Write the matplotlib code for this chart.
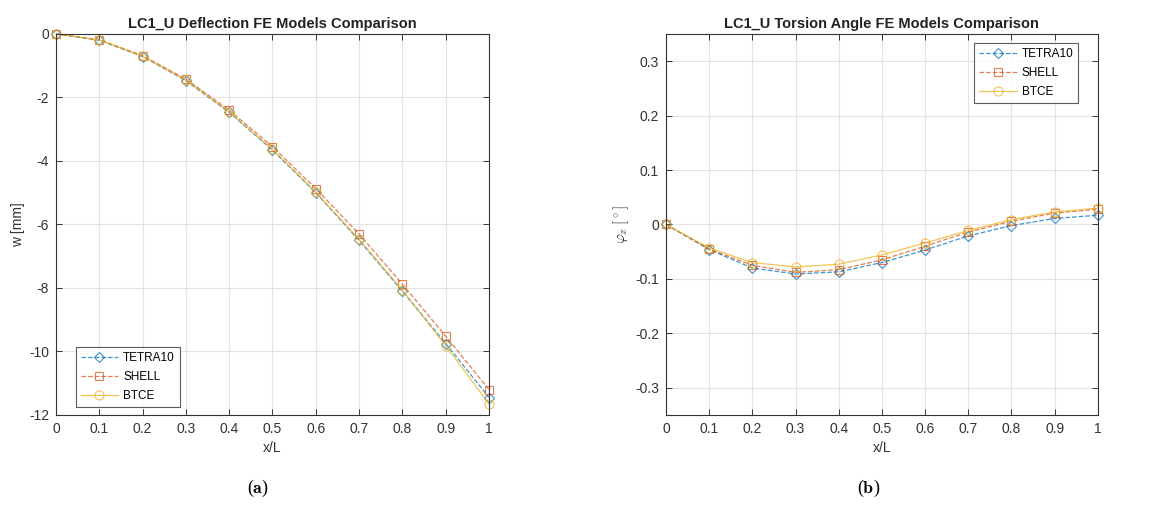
import matplotlib
matplotlib.use("Agg")
import matplotlib.pyplot as plt
import numpy as np

plt.rcParams['font.family'] = ['Liberation Sans', 'DejaVu Sans']
plt.rcParams['mathtext.fontset'] = 'cm'

x = [0, 0.1, 0.2, 0.3, 0.4, 0.5, 0.6, 0.7, 0.8, 0.9, 1.0]
series_names = ['TETRA10', 'SHELL', 'BTCE']

w_tetra = [0, -0.20, -0.71, -1.47, -2.47, -3.66, -5.00, -6.50, -8.10, -9.75, -11.45]
w_shell = [0, -0.18, -0.68, -1.42, -2.40, -3.55, -4.87, -6.30, -7.88, -9.52, -11.20]
w_btce = [0, -0.19, -0.70, -1.45, -2.45, -3.63, -4.98, -6.47, -8.07, -9.82, -11.65]

phi_tetra = [0, -0.046, -0.080, -0.091, -0.087, -0.070, -0.047, -0.021, -0.002, 0.011, 0.017]
phi_shell = [0, -0.045, -0.075, -0.088, -0.083, -0.065, -0.040, -0.014, 0.006, 0.021, 0.028]
phi_btce = [0, -0.043, -0.070, -0.078, -0.073, -0.056, -0.034, -0.011, 0.009, 0.023, 0.030]

colors = ['#0072BD', '#D95319', '#EDB120']
markers = ['D', 's', 'o']
msizes = [5, 5.5, 6.5]
styles = ['--', '--', '-']

fig = plt.figure(figsize=(11.61, 5.07), dpi=100)
axL = fig.add_axes([0.0482, 0.1815, 0.373, 0.7515])
axR = fig.add_axes([0.5736, 0.1815, 0.372, 0.7515])

def style_ax(ax):
    ax.set_facecolor('white')
    ax.grid(True, color='#e3e3e3', linewidth=0.8)
    ax.set_axisbelow(True)
    ax.tick_params(direction='in', top=True, right=True, labelsize=10,
                   length=4, width=0.7, colors='#333333', pad=5)
    for s in ax.spines.values():
        s.set_color('#333333')
        s.set_linewidth(0.8)
    ax.set_xlim(0, 1)
    ax.set_xticks(x)
    ax.set_xticklabels(['0', '0.1', '0.2', '0.3', '0.4', '0.5', '0.6', '0.7', '0.8', '0.9', '1'])
    ax.set_xlabel('x/L', fontsize=10, color='#333333', labelpad=4)

for ax, data in [(axL, [w_tetra, w_shell, w_btce]), (axR, [phi_tetra, phi_shell, phi_btce])]:
    for d, c, m, ms, ls, name in zip(data, colors, markers, msizes, styles, series_names):
        ax.plot(x, d, linestyle=ls, color=c, marker=m, markersize=ms,
                markerfacecolor='none', markeredgewidth=0.8, linewidth=0.9,
                alpha=0.75, label=name, clip_on=False)
    style_ax(ax)

legkw = dict(fontsize=8.5, frameon=True, fancybox=False, edgecolor='#333333',
             handlelength=3.2, borderpad=0.4, labelspacing=0.6, handletextpad=0.4,
             borderaxespad=0)

axL.set_ylim(-12, 0)
axL.set_yticks([-12, -10, -8, -6, -4, -2, 0])
axL.set_yticklabels(['-12', '-10', '-8', '-6', '-4', '-2', '0'])
axL.set_ylabel('w [mm]', fontsize=10, color='#333333', labelpad=3)
axL.set_title('LC1_U Deflection FE Models Comparison', fontsize=10.5, fontweight='bold',
              color='#222222', pad=4)
legL = axL.legend(loc='lower left', bbox_to_anchor=(0.046, 0.021), **legkw)
legL.get_frame().set_linewidth(0.8)

axR.set_ylim(-0.35, 0.35)
axR.set_yticks([-0.3, -0.2, -0.1, 0, 0.1, 0.2, 0.3])
axR.set_yticklabels(['-0.3', '-0.2', '-0.1', '0', '0.1', '0.2', '0.3'])
axR.set_ylabel(r'$\varphi_x\,[^\circ]$', fontsize=11, color='#333333', labelpad=3)
axR.set_title('LC1_U Torsion Angle FE Models Comparison', fontsize=10.5, fontweight='bold',
              color='#222222', pad=4)
legR = axR.legend(loc='upper right', bbox_to_anchor=(0.954, 0.976), **legkw)
legR.get_frame().set_linewidth(0.8)

fig.text(258 / 1161, 1 - 488 / 507, r'($\mathbf{a}$)', ha='center', va='center',
         fontsize=13, family='Liberation Serif')
fig.text(869 / 1161, 1 - 488 / 507, r'($\mathbf{b}$)', ha='center', va='center',
         fontsize=13, family='Liberation Serif')

fig.savefig('out.png', dpi=100, facecolor='white')
